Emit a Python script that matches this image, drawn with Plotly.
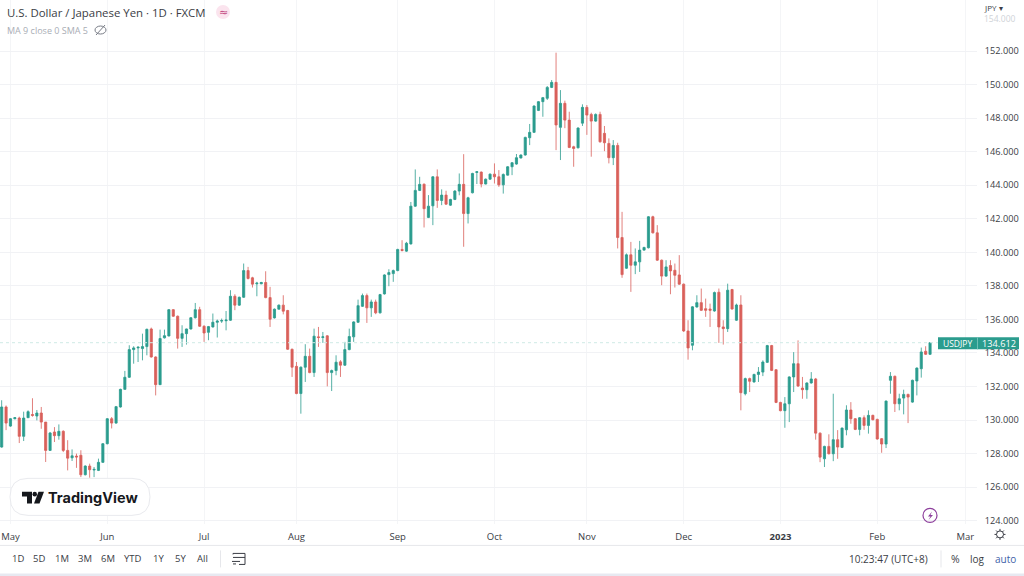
import math

import plotly.graph_objects as go

# daily USDJPY candles
opens = [128.39, 130.78, 129.64, 130.08, 130.12, 129.03, 130.14, 130.33, 130.24, 130.42, 129.88, 128.19, 129.29, 129.07, 129.33, 128.19, 127.75, 127.85, 127.9, 126.74,
         127.26, 127.02, 127.0, 127.48, 128.59, 130.08, 129.82, 130.78, 131.83, 132.55, 134.2, 134.3, 134.26, 134.38, 135.43, 133.76, 132.11, 134.9, 135.01, 136.58,
         136.19, 134.87, 135.15, 135.43, 136.1, 136.58, 135.59, 135.23, 135.55, 135.83, 135.9, 135.92, 135.95, 137.38, 136.85, 137.32, 138.91, 138.48, 138.12, 138.12,
         138.2, 137.3, 136.09, 136.61, 136.85, 136.53, 134.22, 133.2, 131.58, 133.15, 133.8, 132.83, 134.96, 134.92, 135.02, 132.83, 132.95, 133.47, 133.27, 134.2,
         134.96, 135.83, 136.78, 137.42, 136.69, 137.04, 136.39, 137.52, 138.67, 138.73, 138.91, 140.17, 140.07, 140.5, 142.75, 143.69, 144.06, 142.08, 142.77, 144.5,
         143.09, 143.41, 142.81, 143.15, 143.65, 144.05, 142.31, 143.55, 144.76, 144.78, 144.07, 144.36, 144.66, 144.5, 144.02, 144.6, 145.1, 145.26, 145.62, 145.8,
         146.83, 147.15, 148.46, 148.98, 149.18, 149.83, 150.13, 147.45, 148.88, 147.88, 146.29, 146.23, 147.7, 148.64, 148.22, 147.82, 148.22, 147.09, 146.49, 145.64,
         146.37, 140.88, 139.05, 139.85, 139.23, 139.43, 140.13, 140.27, 142.12, 141.16, 139.53, 138.58, 139.21, 138.93, 138.65, 138.1, 135.31, 134.46, 136.74, 137.0,
         136.64, 136.62, 136.5, 137.62, 135.55, 135.45, 137.78, 135.95, 136.86, 131.57, 132.47, 132.27, 132.72, 132.86, 133.44, 134.44, 133.0, 131.05, 130.56, 130.97,
         132.57, 133.36, 131.91, 131.81, 132.21, 132.45, 129.22, 127.69, 128.43, 127.99, 128.83, 128.37, 129.42, 130.6, 130.08, 129.44, 130.14, 129.68, 130.28, 130.04,
         128.89, 128.57, 132.37, 132.61, 130.97, 131.31, 131.53, 131.07, 132.33, 133.06, 134.1, 133.92]
highs = [131.18, 130.87, 130.12, 130.17, 130.2, 130.5, 130.58, 131.3, 130.6, 130.78, 129.88, 129.29, 129.58, 129.74, 129.39, 128.8, 128.25, 128.0, 128.2, 127.3,
         127.4, 127.2, 127.7, 128.63, 130.12, 130.18, 130.84, 131.87, 132.93, 134.46, 134.4, 134.4, 135.15, 135.45, 135.51, 133.8, 135.39, 135.39, 136.62, 136.62,
         136.23, 135.65, 135.45, 136.14, 136.98, 136.75, 135.65, 135.61, 136.35, 135.99, 136.05, 136.5, 137.74, 137.5, 137.36, 139.33, 139.13, 138.54, 138.24, 138.24,
         138.87, 137.94, 136.65, 136.89, 137.44, 136.57, 134.26, 133.46, 133.2, 134.52, 134.26, 135.45, 135.55, 135.25, 135.06, 133.01, 133.86, 133.57, 134.66, 135.45,
         135.89, 137.18, 137.54, 137.54, 137.18, 137.18, 137.52, 138.69, 138.99, 138.97, 140.21, 140.72, 140.62, 143.0, 144.94, 144.5, 144.1, 143.41, 144.54, 144.94,
         143.75, 143.67, 143.19, 143.71, 144.7, 145.85, 143.31, 144.74, 144.84, 144.82, 144.4, 144.7, 145.3, 144.9, 144.7, 145.14, 145.38, 145.86, 145.84, 146.89,
         147.65, 148.76, 149.02, 149.26, 149.91, 150.27, 151.9, 149.67, 149.04, 148.38, 146.35, 147.45, 148.82, 148.78, 148.32, 148.28, 148.38, 147.53, 146.79, 146.69,
         146.53, 142.41, 139.93, 140.62, 140.23, 140.68, 140.33, 142.16, 142.18, 141.62, 139.57, 139.53, 139.53, 139.33, 139.83, 138.14, 135.95, 136.79, 137.44, 137.84,
         137.24, 136.94, 137.66, 137.84, 135.95, 138.13, 137.82, 136.94, 137.44, 132.53, 132.53, 132.76, 133.16, 133.56, 134.48, 134.48, 133.04, 131.09, 131.37, 132.61,
         134.05, 134.75, 132.57, 132.25, 132.86, 132.51, 129.26, 128.47, 129.15, 131.57, 129.4, 129.56, 130.88, 131.07, 130.12, 130.18, 130.28, 130.58, 130.32, 130.08,
         128.93, 131.17, 132.86, 132.65, 131.57, 131.81, 131.57, 132.41, 133.14, 134.32, 134.4, 134.63]
lows = [128.35, 129.4, 129.6, 130.04, 128.63, 128.75, 130.14, 130.2, 129.98, 129.48, 127.5, 128.19, 128.69, 128.83, 128.09, 127.0, 127.56, 127.15, 126.6, 126.7,
        126.56, 126.6, 126.96, 127.44, 128.55, 129.5, 129.78, 130.74, 131.81, 132.51, 133.36, 133.46, 133.56, 133.86, 133.72, 131.47, 132.11, 134.86, 134.99, 136.15,
        134.26, 134.36, 134.5, 135.39, 136.05, 135.55, 134.66, 134.76, 135.51, 134.92, 135.79, 135.35, 135.91, 136.55, 136.81, 137.28, 138.38, 137.9, 137.38, 138.1,
        137.26, 135.55, 136.05, 136.59, 136.3, 134.18, 132.57, 131.54, 130.38, 132.27, 132.79, 132.57, 134.36, 134.6, 132.01, 131.73, 132.67, 132.57, 133.23, 134.16,
        134.66, 135.79, 136.74, 135.79, 136.15, 136.31, 136.35, 137.48, 137.98, 138.24, 138.87, 140.05, 140.03, 140.46, 142.71, 143.65, 141.48, 142.04, 141.62, 142.65,
        142.81, 142.83, 142.77, 143.11, 143.4, 140.33, 141.72, 143.51, 144.07, 143.87, 144.05, 144.32, 144.1, 143.9, 143.5, 144.58, 144.6, 145.22, 145.6, 145.76,
        146.39, 147.11, 148.42, 148.08, 149.08, 149.79, 146.09, 145.5, 147.4, 146.21, 145.1, 146.19, 147.53, 147.0, 145.7, 147.78, 146.53, 146.03, 145.3, 145.2,
        140.23, 138.48, 139.01, 137.64, 138.7, 138.83, 140.09, 140.23, 141.12, 139.49, 138.04, 138.54, 137.5, 137.9, 138.06, 135.25, 133.6, 134.16, 136.7, 136.5,
        136.15, 135.55, 136.46, 134.6, 134.5, 135.25, 136.58, 135.91, 130.58, 131.47, 131.67, 132.23, 132.27, 132.62, 133.4, 132.92, 131.01, 130.52, 129.54, 129.88,
        131.67, 131.97, 131.27, 131.27, 132.17, 128.83, 127.49, 127.2, 127.95, 127.55, 127.69, 128.33, 129.09, 129.78, 129.4, 129.09, 129.42, 129.19, 129.98, 128.83,
        128.05, 128.33, 131.57, 130.48, 130.58, 130.34, 129.82, 131.03, 131.47, 132.53, 133.88, 133.88]
closes = [130.78, 129.82, 130.08, 130.14, 129.03, 130.12, 130.5, 130.28, 130.42, 129.88, 128.19, 129.23, 129.07, 129.33, 128.19, 127.73, 127.87, 127.8, 126.74, 127.26,
          127.04, 127.06, 127.48, 128.59, 130.08, 129.82, 130.8, 131.83, 132.55, 134.2, 134.3, 134.34, 134.38, 135.41, 133.76, 132.11, 134.86, 135.03, 136.58, 136.19,
          134.87, 135.15, 135.43, 136.1, 136.58, 135.59, 135.19, 135.57, 135.83, 135.9, 135.93, 135.96, 137.38, 136.85, 137.32, 138.91, 138.44, 138.1, 138.16, 138.2,
          137.3, 136.01, 136.61, 136.85, 136.49, 134.22, 133.15, 131.58, 133.15, 133.8, 132.83, 135.0, 134.92, 134.96, 132.83, 132.95, 133.45, 133.27, 134.2, 134.98,
          135.85, 136.82, 137.42, 136.69, 137.04, 136.39, 137.48, 138.65, 138.79, 138.91, 140.17, 140.11, 140.54, 142.75, 143.69, 144.05, 142.6, 142.75, 144.5, 143.09,
          143.41, 142.87, 143.15, 143.65, 144.05, 142.31, 143.25, 144.7, 144.8, 144.07, 144.36, 144.66, 144.5, 144.02, 144.64, 145.1, 145.34, 145.64, 145.8, 146.85,
          147.15, 148.72, 148.98, 149.22, 149.83, 150.13, 147.59, 148.88, 147.88, 146.25, 146.19, 147.41, 148.64, 148.18, 147.82, 148.22, 146.59, 146.53, 145.64, 146.37,
          140.88, 138.67, 139.85, 139.23, 139.43, 140.13, 140.29, 142.12, 141.16, 139.53, 138.58, 139.13, 138.89, 138.63, 138.1, 135.31, 134.3, 136.75, 137.0, 136.54,
          136.54, 136.54, 137.6, 135.55, 135.45, 137.74, 136.62, 136.86, 131.63, 132.47, 132.31, 132.72, 132.86, 133.46, 134.44, 132.96, 131.05, 130.56, 130.97, 132.57,
          133.36, 132.03, 131.81, 132.21, 132.45, 129.22, 127.79, 128.43, 127.99, 128.83, 128.39, 129.52, 130.6, 130.08, 129.44, 130.14, 129.68, 130.28, 130.02, 128.87,
          128.57, 131.13, 132.61, 130.97, 131.27, 131.53, 131.37, 132.37, 133.1, 134.06, 133.92, 134.612]

month_ticks = [2, 24, 46, 67, 90, 112, 133, 155, 177, 199, 219]
month_labels = ["May", "Jun", "Jul", "Aug", "Sep", "Oct", "Nov", "Dec", "<b>2023</b>", "Feb", "Mar"]
price_ticks = [124, 126, 128, 130, 132, 134, 136, 138, 140, 142, 144, 146, 148, 150, 152]
last_price = 134.612
range_buttons = ["1D", "5D", "1M", "3M", "6M", "YTD", "1Y", "5Y", "All"]
button_pos = [18, 39, 62, 85, 108, 133, 158, 180, 202]

WIDTH = 1024
HEIGHT = 576
# the photographed page came out a touch short, stretch the vertical layout to match
Y_STRETCH = 1.006
FONT = "Open Sans"
TEXT = "#3a3d45"
GREEN = "#2b9c8e"
RED = "#d9605a"


def px(x):
    return x / WIDTH


def py(y):
    return 1 - y * Y_STRETCH / HEIGHT


def path(pts, close=True):
    s = "M " + " L ".join(f"{px(x):.5f} {py(y):.5f}" for x, y in pts)
    return s + " Z" if close else s


def add_text(fig, x, y, text, size=10, color=TEXT, anchor="left", family=FONT):
    fig.add_annotation(x=px(x), y=py(y), xref="paper", yref="paper", text=text, showarrow=False,
                       xanchor=anchor, yanchor="middle", font=dict(size=size, color=color, family=family))


def add_box(fig, x0, y0, x1, y1, fill="rgba(0,0,0,0)", line="rgba(0,0,0,0)", kind="rect", lw=1):
    fig.add_shape(type=kind, xref="paper", yref="paper", x0=px(x0), x1=px(x1), y0=py(y0), y1=py(y1),
                  fillcolor=fill, line=dict(color=line, width=lw), layer="above")


def add_path(fig, pts, fill="rgba(0,0,0,0)", line="rgba(0,0,0,0)", close=True, lw=1):
    fig.add_shape(type="path", xref="paper", yref="paper", path=path(pts, close),
                  fillcolor=fill, line=dict(color=line, width=lw), layer="above")


fig = go.Figure()
fig.add_trace(go.Candlestick(x=list(range(len(closes))), open=opens, high=highs, low=lows, close=closes,
                             increasing=dict(line=dict(color=GREEN, width=0.8), fillcolor=GREEN),
                             decreasing=dict(line=dict(color=RED, width=0.8), fillcolor=RED),
                             whiskerwidth=0, showlegend=False, hoverinfo="skip"))

fig.update_xaxes(domain=[0, 977 / WIDTH], range=[-0.38, 221.67], rangeslider_visible=False,
                 tickmode="array", tickvals=month_ticks, ticktext=month_labels,
                 showgrid=True, gridcolor="#f4f5f7", gridwidth=1, zeroline=False, showline=False,
                 ticks="outside", ticklen=3, tickcolor="white", tickfont=dict(size=9.5, color=TEXT, family=FONT))
fig.update_yaxes(domain=[py(524), 1], range=[123.78, 155.04], side="right",
                 tickmode="array", tickvals=price_ticks, tickformat=".3f",
                 showgrid=True, gridcolor="#f1f2f5", gridwidth=1, zeroline=False, showline=False,
                 ticks="outside", ticklen=5, tickcolor="white", tickfont=dict(size=9.2, color=TEXT, family=FONT))

# last price line
fig.add_hline(y=last_price, line=dict(color="#cfeae6", width=1, dash="dot"))

# header
add_text(fig, 5, 12, "U.S. Dollar / Japanese Yen · 1D · FXCM", size=11.4)
add_box(fig, 216, 5, 230, 19, fill="#fbe4ee", kind="circle")
add_text(fig, 223, 12, "≈", size=11, color="#c2487f", anchor="center", family="DejaVu Sans")
add_text(fig, 5, 30, "MA 9 close 0 SMA 5", size=9, color="#a9adb5")
add_box(fig, 95, 26, 106, 34, line="#777b85", kind="circle")
add_path(fig, [(96, 35), (105, 25)], line="#777b85", close=False)
add_text(fig, 982, 7.5, "JPY ▾", size=8)
add_text(fig, 982, 18.5, "154.000", size=8.5, color="#d0d3d8")

# price label
add_box(fig, 938, 337, 1019, 349, fill=GREEN)
add_path(fig, [(977.5, 337), (977.5, 349)], line="#6fc0b6", close=False)
add_text(fig, 957.5, 343, "USDJPY", size=8.5, color="white", anchor="center")
add_text(fig, 999, 343, f"{last_price:.3f}", size=9.2, color="white", anchor="center")

# logo
add_box(fig, 10, 478, 150, 515, fill="white", line="#e9eaee", kind="rect")
fig.layout.shapes[-1].update(type="path", x0=None, x1=None, y0=None, y1=None,
                             path=f"M {px(28):.5f} {py(478):.5f} L {px(132):.5f} {py(478):.5f} "
                                  f"Q {px(150):.5f} {py(478):.5f} {px(150):.5f} {py(496.5):.5f} "
                                  f"Q {px(150):.5f} {py(515):.5f} {px(132):.5f} {py(515):.5f} "
                                  f"L {px(28):.5f} {py(515):.5f} "
                                  f"Q {px(10):.5f} {py(515):.5f} {px(10):.5f} {py(496.5):.5f} "
                                  f"Q {px(10):.5f} {py(478):.5f} {px(28):.5f} {py(478):.5f} Z")
add_path(fig, [(22, 491.5), (32, 491.5), (32, 503), (27, 503), (27, 496), (22, 496)], fill="#16181d")
add_box(fig, 32.5, 491.5, 37, 496, fill="#16181d", kind="circle")
add_path(fig, [(38.5, 491.5), (44, 491.5), (39.5, 503), (34, 503)], fill="#16181d")
add_text(fig, 45.5, 497, "<b>TradingView</b>", size=14.5, color="#16181d", family="Inter")

# lightning badge
add_box(fig, 923, 508, 937, 522, line="#8d3f9c", kind="circle", lw=1.2)
add_path(fig, [(932, 511), (928, 516), (930.5, 516), (928.5, 519.5), (933, 514.5), (930.5, 514.5)], fill="#8d3f9c")

# gear
add_box(fig, 996.5, 530.5, 1003.5, 537.5, line=TEXT, kind="circle")
for k in range(8):
    a = k * math.pi / 4
    add_path(fig, [(1000 + 3.5 * math.cos(a), 534 + 3.5 * math.sin(a)),
                   (1000 + 5.5 * math.cos(a), 534 + 5.5 * math.sin(a))], line=TEXT, close=False)

# bottom toolbar
add_path(fig, [(0, 545), (WIDTH, 545)], line="#e6e7eb", close=False)
add_box(fig, 0, 573, WIDTH, 578, fill="#e7e9f1")
for label, x in zip(range_buttons, button_pos):
    add_text(fig, x, 558.5, label, size=9.5, anchor="center")
add_path(fig, [(220.5, 550), (220.5, 567)], line="#e6e7eb", close=False)
add_path(fig, [(233, 554), (233, 553), (245, 553), (245, 564), (239, 564)], line=TEXT, close=False)
add_path(fig, [(233, 557), (245, 557)], line=TEXT, close=False)
add_path(fig, [(232, 561), (240, 561)], line=TEXT, close=False)
add_path(fig, [(236, 563.5), (233, 563.5)], line=TEXT, close=False)
add_text(fig, 888.5, 558.5, "10:23:47 (UTC+8)", size=10, anchor="center")
add_path(fig, [(941, 550), (941, 567)], line="#e6e7eb", close=False)
add_text(fig, 955.5, 558.5, "%", size=10.5, anchor="center")
add_text(fig, 977.5, 558.5, "log", size=10, anchor="center")
add_text(fig, 1005, 558.5, "auto", size=10, color="#3f5fa8", anchor="center")

fig.update_layout(width=WIDTH, height=HEIGHT, margin=dict(l=0, r=0, t=0, b=0), autosize=False,
                  paper_bgcolor="white", plot_bgcolor="white", showlegend=False,
                  font=dict(family=FONT, color=TEXT))

fig.write_html("out.html", config=dict(displayModeBar=False),
               post_script="document.body.style.margin='0';document.documentElement.style.overflow='hidden';")
